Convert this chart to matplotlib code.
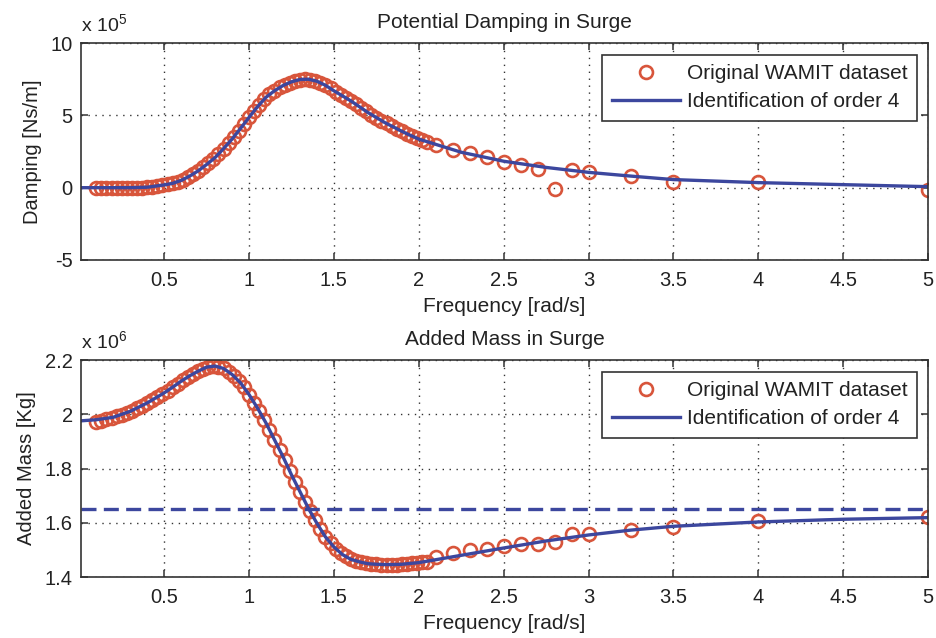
import numpy as np
import matplotlib
matplotlib.use("Agg")
import matplotlib.pyplot as plt
from matplotlib.ticker import FormatStrFormatter

plt.rcParams["font.family"] = ["Liberation Sans", "DejaVu Sans"]
plt.rcParams["mathtext.fontset"] = "custom"
plt.rcParams["mathtext.rm"] = "Liberation Sans"

# WAMIT frequencies: dense block + sparse tail
freq_dense = np.round(np.arange(0.10, 2.051, 0.03), 2)
freq_sparse = [2.1, 2.2, 2.3, 2.4, 2.5, 2.6, 2.7, 2.8, 2.9, 3.0, 3.25, 3.5, 4.0, 5.0]

# damping, x 1e5 Ns/m
damp_dense = [0.00, 0.00, 0.00, -0.01, -0.01, -0.02, -0.02, -0.01, -0.01, 0.00,
              0.02, 0.05, 0.10, 0.17, 0.23, 0.30, 0.41, 0.55, 0.74, 0.94,
              1.16, 1.42, 1.70, 1.98, 2.32, 2.70, 3.09, 3.50, 3.95, 4.40,
              4.86, 5.30, 5.74, 6.13, 6.45, 6.70, 6.93, 7.11, 7.27, 7.39,
              7.48, 7.51, 7.48, 7.39, 7.25, 7.08, 6.86, 6.63, 6.42, 6.21,
              6.00, 5.76, 5.52, 5.28, 5.06, 4.85, 4.64, 4.44, 4.26, 4.08,
              3.90, 3.73, 3.57, 3.41, 3.27, 3.15]
damp_sparse = [2.95, 2.60, 2.40, 2.10, 1.80, 1.60, 1.30, -0.10, 1.20, 1.05, 0.80, 0.40, 0.40, -0.15]

# added mass, x 1e6 kg
mass_dense = [1.970, 1.976, 1.982, 1.987, 1.993, 1.999, 2.006, 2.014, 2.023, 2.032,
              2.042, 2.053, 2.064, 2.075, 2.087, 2.100, 2.113, 2.126, 2.138, 2.149,
              2.159, 2.168, 2.175, 2.178, 2.176, 2.169, 2.157, 2.142, 2.122, 2.099,
              2.073, 2.043, 2.012, 1.979, 1.943, 1.906, 1.869, 1.831, 1.790, 1.752,
              1.715, 1.678, 1.642, 1.609, 1.577, 1.548, 1.525, 1.505, 1.488, 1.476,
              1.465, 1.459, 1.454, 1.450, 1.448, 1.447, 1.446, 1.446, 1.446, 1.446,
              1.447, 1.448, 1.450, 1.452, 1.455, 1.457]
mass_sparse = [1.474, 1.489, 1.499, 1.504, 1.514, 1.520, 1.523, 1.528, 1.560, 1.558,
               1.572, 1.585, 1.606, 1.620]

# identified model (order 4)
freq_fit = [0.01, 0.1, 0.2, 0.3, 0.4, 0.5, 0.55, 0.6, 0.65, 0.7, 0.75, 0.8, 0.85, 0.9,
            0.95, 1.0, 1.05, 1.1, 1.15, 1.2, 1.25, 1.3, 1.35, 1.4, 1.45, 1.5, 1.55,
            1.6, 1.65, 1.7, 1.75, 1.8, 1.85, 1.9, 1.95, 2.0, 2.25, 2.5, 2.75, 3.0,
            3.25, 3.5, 4.0, 4.5, 5.0]
damp_fit = [0.0, 0.0, 0.0, 0.0, 0.03, 0.19, 0.30, 0.50, 0.80, 1.16, 1.60, 2.08, 2.70,
            3.36, 4.10, 4.86, 5.60, 6.25, 6.70, 7.06, 7.32, 7.48, 7.50, 7.36, 7.08,
            6.70, 6.35, 6.00, 5.60, 5.20, 4.85, 4.50, 4.20, 3.90, 3.62, 3.36, 2.45,
            1.83, 1.40, 1.06, 0.80, 0.56, 0.35, 0.21, 0.07]
mass_fit = [1.976, 1.980, 1.989, 2.011, 2.042, 2.079, 2.100, 2.122, 2.142, 2.159,
            2.174, 2.178, 2.169, 2.147, 2.116, 2.073, 2.023, 1.968, 1.906, 1.844,
            1.777, 1.715, 1.653, 1.598, 1.548, 1.511, 1.483, 1.465, 1.456, 1.449,
            1.447, 1.446, 1.446, 1.447, 1.450, 1.453, 1.480, 1.507, 1.533, 1.555,
            1.573, 1.587, 1.603, 1.613, 1.619]
mass_inf = [1.65, 1.65]
freq_inf = [0.01, 5.0]

RED = "#d8553b"
BLUE = "#3c479e"
TXT = "#222222"
FS = 14.5

fig = plt.figure(figsize=(9.36, 6.38), dpi=100)
ax1 = fig.add_axes([0.0865, 0.5925, 0.9050, 0.3400])
ax2 = fig.add_axes([0.0865, 0.0956, 0.9050, 0.3400])


def style(ax, yticks, ylim, title, ylabel, exp):
    ax.set_xlim(0.01, 5)
    ax.set_xticks(np.arange(0.5, 5.01, 0.5))
    ax.set_ylim(*ylim)
    ax.set_yticks(yticks)
    ax.xaxis.set_major_formatter(FormatStrFormatter("%g"))
    ax.yaxis.set_major_formatter(FormatStrFormatter("%g"))
    ax.grid(True, color="#333333", linestyle=(0, (1, 4)), linewidth=1.0)
    ax.tick_params(direction="in", top=True, right=True, length=5, width=1.1,
                   labelsize=FS, colors="#333333", labelcolor=TXT)
    ax.tick_params(axis="x", pad=8)
    ax.tick_params(axis="y", pad=6)
    for s in ax.spines.values():
        s.set_color("#333333")
        s.set_linewidth(1.2)
    ax.set_title(title, fontsize=15, color=TXT, pad=11)
    ax.set_xlabel("Frequency [rad/s]", fontsize=15, color=TXT, labelpad=5)
    ax.set_ylabel(ylabel, fontsize=FS, color=TXT, labelpad=6)
    ax.text(0.0, 1.03, r"x 10$^{%d}$" % exp, transform=ax.transAxes,
            fontsize=14, color=TXT, ha="left", va="bottom")
    leg = ax.legend(loc="upper right", fontsize=15, numpoints=1, handlelength=3.3,
                    handletextpad=0.3, borderpad=0.45, labelspacing=0.45,
                    borderaxespad=0.55, fancybox=False, framealpha=1)
    leg.get_frame().set_edgecolor("#333333")
    leg.get_frame().set_linewidth(1.2)
    for t in leg.get_texts():
        t.set_color(TXT)


mk = dict(linestyle="none", marker="o", markersize=9.3, markerfacecolor="none",
          markeredgecolor=RED, markeredgewidth=1.9)

ax1.plot(freq_dense, damp_dense, **mk, label="Original WAMIT dataset")
ax1.plot(freq_sparse, damp_sparse, **mk)
ax1.plot(freq_fit, damp_fit, color=BLUE, lw=2.4, label="Identification of order 4")
style(ax1, [-5, 0, 5, 10], (-5, 10), "Potential Damping in Surge", "Damping [Ns/m]", 5)

ax2.plot(freq_dense, mass_dense, **mk, label="Original WAMIT dataset")
ax2.plot(freq_sparse, mass_sparse, **mk)
ax2.plot(freq_fit, mass_fit, color=BLUE, lw=2.4, label="Identification of order 4")
ax2.plot(freq_inf, mass_inf, color=BLUE, lw=2.4, linestyle=(0, (4.5, 2.2)))
style(ax2, [1.4, 1.6, 1.8, 2.0, 2.2], (1.4, 2.2), "Added Mass in Surge", "Added Mass [Kg]", 6)

fig.savefig("out.png", dpi=100, facecolor="white")
